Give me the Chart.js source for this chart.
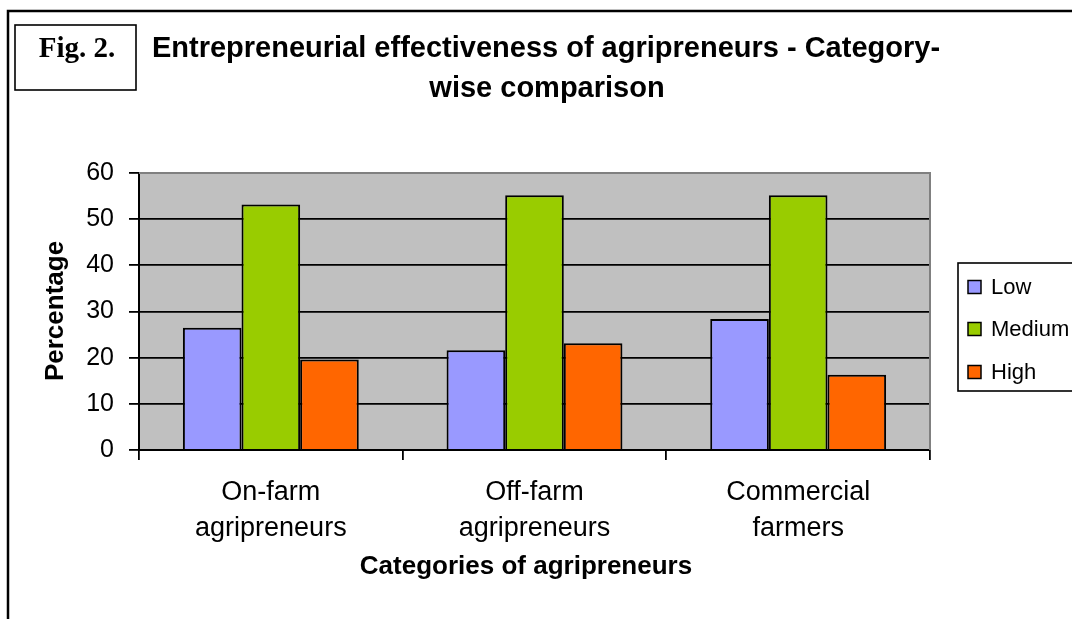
<!DOCTYPE html>
<html><head><meta charset="utf-8">
<script src="https://cdn.jsdelivr.net/npm/chart.js@4/dist/chart.umd.min.js"></script>
<style>html,body{margin:0;padding:0;background:#fff;}canvas{display:block;}</style>
</head><body>
<canvas id="c" width="1072" height="619" style="width:1072px;height:619px"></canvas>
<script>
const categories = [['On-farm', 'agripreneurs'], ['Off-farm', 'agripreneurs'], ['Commercial', 'farmers']];
const seriesNames = ['Low', 'Medium', 'High'];
const lowValues = [26.5, 21.6, 28.4];
const mediumValues = [53.2, 55.2, 55.2];
const highValues = [19.6, 23.1, 16.3];
const yTicks = [0, 10, 20, 30, 40, 50, 60];
const titleLines = ['Entrepreneurial effectiveness of agripreneurs - Category-', 'wise comparison'];
const yTitle = 'Percentage';
const xTitle = 'Categories of agripreneurs';
const figLabel = 'Fig. 2.';
const seriesColors = ['#9999FF', '#99CC00', '#FF6600'];

const FONT = "'Liberation Sans', Arial, sans-serif";

const decor = {
  id: 'decor',
  beforeDraw(chart) {
    const {ctx, chartArea: a} = chart;
    ctx.save();
    ctx.fillStyle = '#C0C0C0';
    ctx.fillRect(a.left, a.top, a.right - a.left, a.bottom - a.top);
    ctx.restore();
  },
  afterDraw(chart) {
    const {ctx, chartArea: a} = chart;
    ctx.save();
    // plot area gray border (top, right)
    ctx.strokeStyle = '#808080';
    ctx.lineWidth = 2;
    ctx.beginPath();
    ctx.moveTo(a.left, a.top);
    ctx.lineTo(a.right, a.top);
    ctx.lineTo(a.right, a.bottom);
    ctx.stroke();
    // outer frame
    ctx.strokeStyle = '#000';
    ctx.lineWidth = 2.5;
    ctx.beginPath();
    ctx.moveTo(8, 630);
    ctx.lineTo(8, 11);
    ctx.lineTo(1080, 11);
    ctx.stroke();
    // Fig box
    ctx.lineWidth = 1.6;
    ctx.strokeRect(15, 25, 121, 65);
    ctx.fillStyle = '#000';
    ctx.font = "bold 29px 'Liberation Serif', 'Times New Roman', serif";
    ctx.textAlign = 'center';
    ctx.textBaseline = 'middle';
    ctx.fillText(figLabel, 77, 50);
    // Title
    ctx.font = 'bold 29px ' + FONT;
    ctx.fillText(titleLines[0], 546, 49);
    ctx.fillText(titleLines[1], 547, 89);
    // Axis titles
    ctx.font = 'bold 26px ' + FONT;
    ctx.fillText(xTitle, 526, 567);
    ctx.save();
    ctx.translate(56, 311);
    ctx.rotate(-Math.PI / 2);
    ctx.fillText(yTitle, 0, 0);
    ctx.restore();
    // Legend
    ctx.lineWidth = 1.6;
    ctx.strokeStyle = '#000';
    ctx.strokeRect(958, 263, 130, 128);
    const ys = [287, 329, 372];
    ctx.font = '22px ' + FONT;
    ctx.textAlign = 'left';
    chart.data.datasets.forEach((ds, i) => {
      ctx.fillStyle = ds.backgroundColor;
      ctx.fillRect(968, ys[i] - 6.5, 13, 13);
      ctx.lineWidth = 1.5;
      ctx.strokeRect(968, ys[i] - 6.5, 13, 13);
      ctx.fillStyle = '#000';
      ctx.fillText(ds.label, 991, ys[i] + 1);
    });
    ctx.restore();
  }
};

const valueSets = [lowValues, mediumValues, highValues];

new Chart(document.getElementById('c'), {
  type: 'bar',
  data: {
    labels: categories,
    datasets: seriesNames.map((name, i) => ({
      label: name,
      data: valueSets[i],
      backgroundColor: seriesColors[i],
      borderColor: '#000',
      borderWidth: 2,
      categoryPercentage: 0.667,
      barPercentage: 1.0
    }))
  },
  options: {
    responsive: false,
    animation: false,
    devicePixelRatio: 1,
    layout: {padding: {left: 0, top: 173, right: 142, bottom: 0}},
    plugins: {legend: {display: false}, title: {display: false}, tooltip: {enabled: false}},
    scales: {
      x: {
        grid: {offset: true, drawOnChartArea: false, drawTicks: true, tickLength: 10, color: '#000', lineWidth: 1.8},
        border: {display: true, color: '#000', width: 2},
        ticks: {color: '#000', font: {family: FONT, size: 27, lineHeight: 1.33}, padding: 15, maxRotation: 0, autoSkip: false},
        afterFit(s) { s.height = 169; }
      },
      y: {
        min: 0, max: 60,
        afterBuildTicks(s) { s.ticks = yTicks.map(v => ({value: v})); },
        grid: {
          color: c => (c.tick && c.tick.value === 60 ? '#808080' : '#000'),
          tickColor: '#000', lineWidth: 1.8, tickLength: 10
        },
        border: {display: true, color: '#000', width: 2},
        ticks: {color: '#000', font: {family: FONT, size: 25}, padding: 15},
        afterFit(s) { s.width = 139; }
      }
    }
  },
  plugins: [decor]
});
</script>
</body></html>
